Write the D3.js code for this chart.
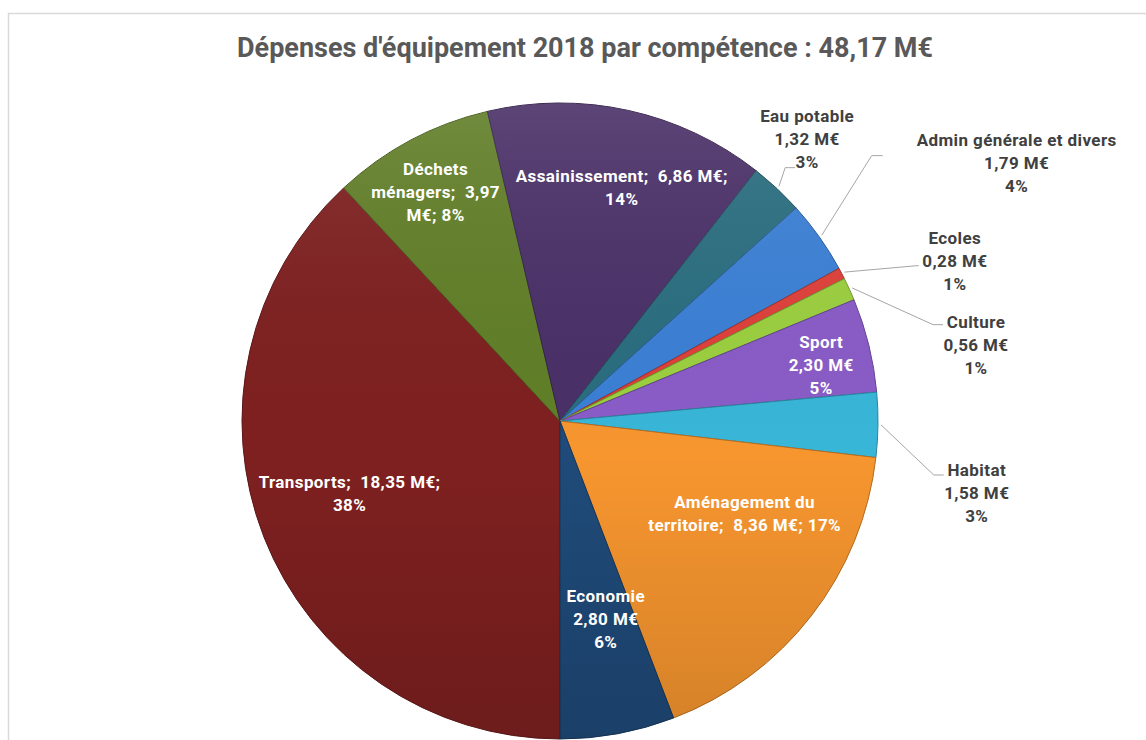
<!DOCTYPE html>
<meta charset="utf-8">
<style>
  body { margin: 0; background: #fff; }
  text { font-family: Roboto, 'Noto Sans', sans-serif; white-space: pre; }
  .title { font-weight: bold; fill: #595959; }
  .lbl-in { font-weight: bold; fill: #fff; letter-spacing: 0.4px; }
  .lbl-out { font-weight: bold; fill: #404040; letter-spacing: 0.4px; }
  .leader { fill: none; stroke: #a6a6a6; stroke-width: 1; }
</style>
<body>
<script src="https://cdn.jsdelivr.net/npm/d3@7"></script>
<script>
  // data, in the order the slices go round (clockwise from 6 o'clock)
  var categories = ["Transports", "Déchets ménagers", "Assainissement", "Eau potable",
    "Admin générale et divers", "Ecoles", "Culture", "Sport", "Habitat",
    "Aménagement du territoire", "Economie"];
  var values = [18.35, 3.97, 6.86, 1.32, 1.79, 0.28, 0.56, 2.30, 1.58, 8.36, 2.80];
  var colors = ["#7f2020", "#617f28", "#4a3068", "#2a6e80", "#3b80d6", "#e0403a",
    "#9cd03f", "#8a5cc8", "#38b6d8", "#f7962f", "#1f4a79"];
  var titleText = "Dépenses d'équipement 2018 par compétence : 48,17 M€";

  // label placement (layout only)
  // semi: "name;  value M€; pct" inside the slice, split after the given word counts
  // stack: name / value / percent inside; out: same, outside with a leader line
  var labelLayout = {
    "Transports":               { kind: "semi", breaks: [3], a: 251, r: 0.70 },
    "Déchets ménagers":         { kind: "semi", breaks: [1, 3], a: 331.5, r: 0.82 },
    "Assainissement":           { kind: "semi", breaks: [3], a: 14.8, r: 0.76 },
    "Eau potable":              { kind: "out", a: 41.2, r: 1.18, elbow: [-22, 29], end: [-12, 29] },
    "Admin générale et divers": { kind: "out", a: 60.5, r: 1.65, elbow: [-145, -7], end: [-134, -7] },
    "Ecoles":                   { kind: "out", a: 67.9, r: 1.34, elbow: [-38, 5], end: [-36, 5] },
    "Culture":                  { kind: "out", a: 79.6, r: 1.33, elbow: [-43, -20], end: [-33, -20] },
    "Sport":                    { kind: "stack", a: 77.9, r: 0.84 },
    "Habitat":                  { kind: "out", a: 99.8, r: 1.33, elbow: [-43, -18], end: [-33, -18] },
    "Aménagement du territoire": { kind: "semi", breaks: [2], a: 116.7, r: 0.65 },
    "Economie":                 { kind: "stack", a: 167, r: 0.64 }
  };

  var width = 1146, height = 740;
  var cx = 560, cy = 421, radius = 318;
  var lineH = 23;

  var fr = d3.formatLocale({ decimal: ",", thousands: " ", grouping: [3], currency: ["", " M€"] });
  var fmtVal = fr.format(".2f");
  var total = d3.sum(values);

  var svg = d3.select("body").append("svg")
    .attr("width", width)
    .attr("height", height);

  // chart frame (runs off the right and bottom edges)
  svg.append("rect")
    .attr("x", 8.5).attr("y", 13.5)
    .attr("width", width).attr("height", height)
    .attr("fill", "none")
    .attr("stroke", "#d9d9d9")
    .attr("stroke-width", 1.5);

  svg.append("text")
    .attr("class", "title")
    .attr("x", 585).attr("y", 57)
    .attr("text-anchor", "middle")
    .style("font-size", "27px")
    .text(titleText);

  var defs = svg.append("defs");
  var shade = defs.append("linearGradient")
    .attr("id", "shade").attr("x1", 0).attr("y1", 0).attr("x2", 0).attr("y2", 1);
  shade.append("stop").attr("offset", "0%").attr("stop-color", "#fff").attr("stop-opacity", 0.10);
  shade.append("stop").attr("offset", "55%").attr("stop-color", "#000").attr("stop-opacity", 0);
  shade.append("stop").attr("offset", "100%").attr("stop-color", "#000").attr("stop-opacity", 0.14);

  var data = categories.map(function(c, i) {
    return { name: c, value: values[i], color: colors[i] };
  });

  var pie = d3.pie()
    .sort(null)
    .value(function(d) { return d.value; })
    .startAngle(Math.PI)
    .endAngle(3 * Math.PI);

  var arc = d3.arc().innerRadius(0).outerRadius(radius);
  var arcs = pie(data);

  var g = svg.append("g").attr("transform", "translate(" + cx + "," + cy + ")");

  g.selectAll("path.slice")
    .data(arcs)
    .enter().append("path")
    .attr("class", "slice")
    .attr("d", arc)
    .attr("fill", function(d) { return d.data.color; })
    .attr("stroke", function(d) { return d3.color(d.data.color).darker(0.9); })
    .attr("stroke-width", 1)
    .attr("stroke-linejoin", "round");

  // lighting over the whole disc
  g.append("circle")
    .attr("r", radius)
    .attr("fill", "url(#shade)")
    .attr("pointer-events", "none");

  function polar(aDeg, rf) {
    var a = aDeg * Math.PI / 180;
    return [Math.sin(a) * radius * rf, -Math.cos(a) * radius * rf];
  }

  function labelLines(d) {
    var lay = labelLayout[d.data.name];
    var pct = Math.round(d.data.value / total * 100) + "%";
    var val = fmtVal(d.data.value);
    if (lay.kind === "semi") {
      var nameWords = d.data.name.split(" ");
      var last = nameWords[nameWords.length - 1] + ";";
      var words = nameWords.slice(0, -1).concat([last], [val, "M€;", pct]);
      var lines = [], start = 0;
      lay.breaks.concat([words.length]).forEach(function(b) {
        lines.push(words.slice(start, b).join(" ").replace(last + " ", last + "  "));
        start = b;
      });
      return lines;
    }
    return [d.data.name, val + " M€", pct];
  }

  arcs.forEach(function(d) {
    var lay = labelLayout[d.data.name];
    var p = polar(lay.a, lay.r);
    var lines = labelLines(d);
    var t = g.append("text")
      .attr("class", lay.kind === "out" ? "lbl-out" : "lbl-in")
      .attr("text-anchor", "middle")
      .style("font-size", "17px");
    var y0 = p[1] - (lines.length - 1) * lineH / 2 + 6;
    lines.forEach(function(l, i) {
      t.append("tspan").attr("x", p[0]).attr("y", y0 + i * lineH).text(l);
    });

    if (lay.kind === "out") {
      var mid = (d.startAngle + d.endAngle) / 2;
      var s = [Math.sin(mid) * (radius + 3), -Math.cos(mid) * (radius + 3)];
      g.append("polyline")
        .attr("class", "leader")
        .attr("points", [s, [p[0] + lay.elbow[0], p[1] + lay.elbow[1]],
          [p[0] + lay.end[0], p[1] + lay.end[1]]].join(" "));
    }
  });
</script>
</body>
